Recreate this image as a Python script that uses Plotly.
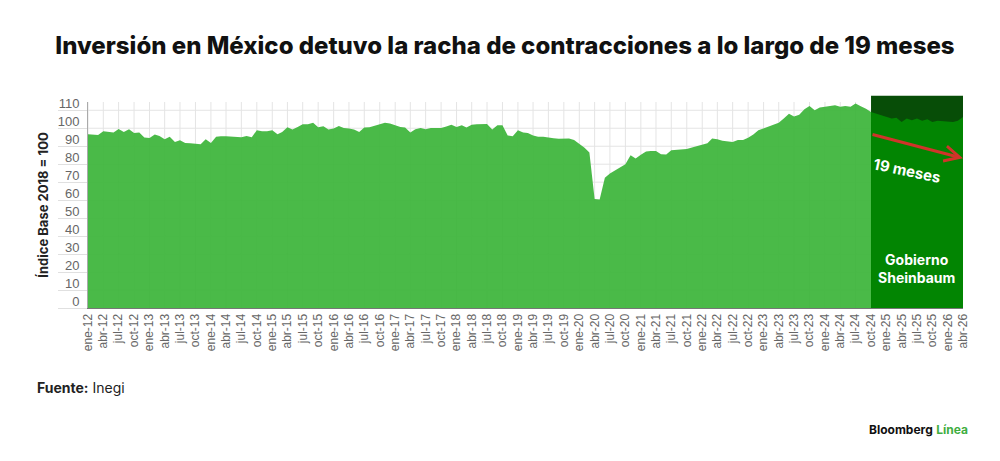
import pandas as pd
import plotly.graph_objects as go

# Inversión fija bruta, índice base 2018 = 100 (mensual, ene-12 a abr-26)
inversion = [
    96.7, 96.5, 96.3, 98.3, 97.8, 97.6, 99.6, 97.9, 99.4, 97.4, 97.6, 94.8,   # 2012
    94.6, 96.5, 95.7, 93.9, 95.2, 92.4, 93.3, 91.8, 91.6, 91.5, 91.1, 93.9,   # 2013
    91.8, 95.2, 95.6, 95.6, 95.4, 95.4, 95.0, 95.7, 95.0, 98.9, 98.3, 98.3,   # 2014
    98.9, 96.7, 97.9, 100.6, 99.3, 100.7, 102.2, 102.2, 103.0, 100.6, 101.1, 99.3,  # 2015
    99.8, 101.3, 100.2, 99.8, 99.3, 97.9, 100.4, 100.6, 101.5, 102.0, 103.0, 102.6,  # 2016
    101.5, 100.7, 100.4, 97.6, 99.4, 100.2, 99.4, 100.2, 100.2, 100.2, 101.0, 102.0,  # 2017
    100.7, 101.7, 100.4, 102.0, 102.2, 102.4, 102.4, 99.3, 101.7, 101.7, 96.0, 95.5,  # 2018
    98.9, 97.6, 97.3, 96.0, 95.2, 95.2, 94.6, 94.4, 94.2, 94.1, 94.3, 93.5,   # 2019
    91.5, 89.1, 86.5, 60.6, 60.4, 72.5, 74.8, 76.5, 78.5, 80.0, 85.0, 83.2,   # 2020
    85.2, 87.0, 87.4, 87.4, 85.6, 85.4, 87.8, 88.1, 88.1, 88.4, 89.3, 90.0,   # 2021
    91.0, 91.6, 94.3, 93.9, 93.0, 92.7, 92.4, 93.5, 93.5, 94.7, 96.5, 98.9,   # 2022
    100.0, 101.2, 102.0, 103.0, 105.4, 108.1, 106.5, 107.5, 110.5, 112.4, 110.0, 111.5,  # 2023
    111.9, 112.2, 112.8, 111.9, 112.4, 111.9, 113.7, 112.2, 110.9, 109.0, 108.1, 107.2,  # 2024
    106.3, 105.4, 105.9, 103.5, 105.4, 104.4, 105.4, 104.1, 105.0, 103.5, 104.1, 103.8,  # 2025
    103.5, 103.5, 104.1, 106.3,                                                # 2026
]
meses_es = ["ene", "feb", "mar", "abr", "may", "jun",
            "jul", "ago", "sep", "oct", "nov", "dic"]
inicio_sheinbaum = "2024-10-01"

fechas = pd.date_range("2012-01-01", periods=len(inversion), freq="MS")
serie = pd.Series(inversion, index=fechas)
antes = serie[:inicio_sheinbaum]
despues = serie[inicio_sheinbaum:]

tick_fechas = fechas[::3]
tick_texto = [f"{meses_es[d.month - 1]}-{d.year % 100:02d}" for d in tick_fechas]
y_ticks = list(range(0, 111, 10))

verde = "rgba(60,181,58,0.93)"
verde_oscuro = "#028502"
verde_fondo = "#074d07"
rojo = "#d0342a"
gris_grid = "#e4e4e4"

fig = go.Figure()
fig.add_trace(go.Scatter(x=antes.index, y=antes.values, mode="lines",
                         line=dict(width=0, color=verde), fill="tozeroy",
                         fillcolor=verde, hoverinfo="x+y"))
fig.add_trace(go.Scatter(x=despues.index, y=despues.values, mode="lines",
                         line=dict(width=0, color=verde_oscuro), fill="tozeroy",
                         fillcolor=verde_oscuro, hoverinfo="x+y"))

# cuadrícula sólo fuera de la franja (para que no cruce el rectángulo oscuro)
for f in tick_fechas:
    if f < pd.Timestamp(inicio_sheinbaum):
        fig.add_shape(type="line", xref="x", yref="paper", x0=f, x1=f,
                      y0=0, y1=1, line=dict(color=gris_grid, width=1),
                      layer="below")
for v in y_ticks[1:]:
    fig.add_shape(type="line", xref="x", yref="y", x0=fechas[0],
                  x1=inicio_sheinbaum, y0=v, y1=v,
                  line=dict(color=gris_grid, width=1), layer="below")

# franja del gobierno de Sheinbaum
fig.add_shape(type="rect", xref="x", yref="paper",
              x0=inicio_sheinbaum, x1=fechas[-1], y0=0, y1=1.03,
              fillcolor=verde_fondo, line_width=0, layer="below")

# flecha de 19 meses
fig.add_annotation(x=fechas[-1], y=83.3, ax=inicio_sheinbaum, ay=96.7,
                   xref="x", yref="y", axref="x", ayref="y", text="",
                   showarrow=True, arrowhead=5, arrowsize=1,
                   arrowwidth=3, arrowcolor=rojo)
fig.add_annotation(x=fechas[160], y=76.5, text="<b>19 meses</b>",
                   showarrow=False, textangle=12,
                   font=dict(family="Inter", size=15, color="white"))
fig.add_annotation(x=fechas[162], y=22, text="<b>Gobierno<br>Sheinbaum</b>",
                   showarrow=False,
                   font=dict(family="Inter", size=14, color="white"))

fig.add_annotation(x=-0.061, y=-0.388, xref="paper", yref="paper",
                   xanchor="left", yanchor="middle", showarrow=False,
                   text="<b>Fuente:</b> Inegi",
                   font=dict(family="Inter", size=14, color="#222"))
fig.add_annotation(x=1.008, y=-0.592, xref="paper", yref="paper",
                   xanchor="right", yanchor="middle", showarrow=False,
                   text="<b>Bloomberg</b> <b><span style='color:#3fae3f'>Línea</span></b>",
                   font=dict(family="Inter", size=12, color="#111"))

fig.update_layout(
    width=1000, height=461,
    margin=dict(l=88, r=37, t=102, b=153),
    paper_bgcolor="white", plot_bgcolor="white",
    showlegend=False,
    title=dict(text="Inversión en México detuvo la racha de contracciones a lo largo de 19 meses",
               x=0.505, xanchor="center", y=0.902, yanchor="middle",
               font=dict(family="Inter", size=24, weight=800, color="#111")),
    font=dict(family="Liberation Sans", color="#555"),
    xaxis=dict(range=[fechas[0], fechas[-1]], tickvals=tick_fechas,
               ticktext=tick_texto, tickangle=-90, showgrid=False,
               showline=True, linecolor="#777", linewidth=1, ticks="",
               tickfont=dict(size=12, color="#666")),
    yaxis=dict(range=[0, 114.6], tickvals=y_ticks, showgrid=False,
               showline=True, linecolor="#aaa", zeroline=False,
               ticks="outside", ticklen=29, tickcolor="#e0e0e0",
               ticklabelstandoff=-24, ticklabelshift=-7,
               tickfont=dict(size=13, color="#666"),
               title=dict(text="<b>Índice Base 2018 = 100</b>", standoff=6,
                          font=dict(family="Inter", size=13, color="#222"))),
)

fig.write_html("out.html", config={"displayModeBar": False},
               post_script="document.body.style.margin='0';")
